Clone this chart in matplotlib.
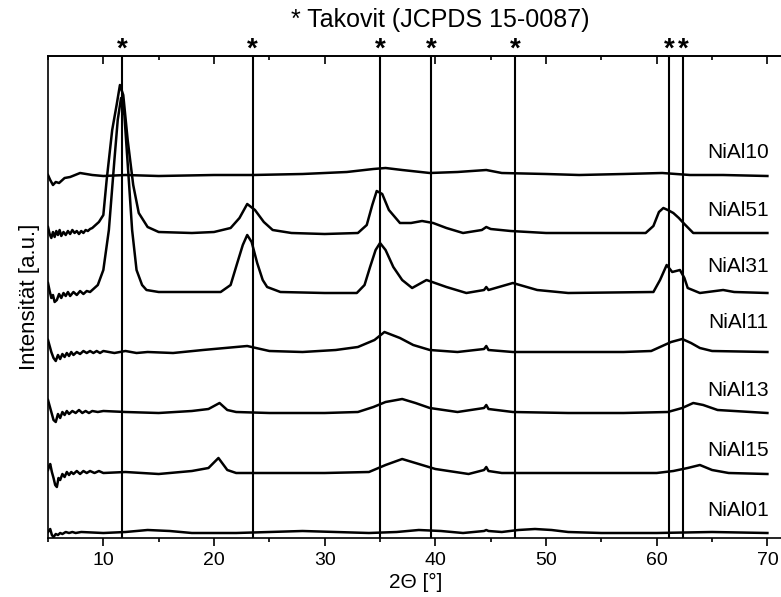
import matplotlib
matplotlib.use('Agg')
import matplotlib.pyplot as plt
from matplotlib.ticker import MultipleLocator

plt.rcParams['font.family'] = ['Liberation Sans', 'DejaVu Sans']

# reference peaks (Takovit, JCPDS 15-0087), in 2theta
ref_peaks = [11.7, 23.5, 35.0, 39.6, 47.2, 61.1, 62.4]

# stacked diffractograms, intensity (stacked, arb. units)
x_10 = [5.0, 5.2, 5.45, 5.7, 6.0, 6.5, 7.0, 7.9, 9, 10, 12, 15, 20, 23.5, 28, 32, 34.4,
        35.5, 37, 39.5, 42, 44.6, 46, 50, 53, 57, 60.5, 63, 66, 70]
y_10 = [363, 358, 353, 356, 355, 360, 361, 365, 363, 362, 363, 362, 363, 363, 364, 366, 369,
        370, 368, 365, 366, 368, 365, 364, 363, 364, 365, 363, 363, 362]

x_51 = [5.0, 5.15, 5.3, 5.45, 5.6, 5.75, 5.9, 6.05, 6.2, 6.4, 6.6, 6.8, 7.0, 7.2, 7.4,
        7.6, 7.8, 8.0, 8.2, 8.4, 8.6, 8.8, 9.0, 9.3, 9.6, 10.0, 10.3, 10.8, 11.2, 11.5,
        11.8, 12.2, 12.7, 13.2, 14, 15, 18, 20, 21.5, 22.3, 23.0, 23.7, 24.5, 25.3, 27,
        30, 33, 33.8, 34.3, 34.7, 35.2, 35.8, 36.8, 37.8, 38.8, 39.8, 41, 42.5, 44.2,
        44.6, 45, 46.8, 50, 55, 59, 59.7, 60.2, 60.6, 61.0, 61.5, 62.0, 62.5, 63.3, 65, 70]
y_51 = [311, 304, 300, 306, 301, 307, 303, 308, 302, 306, 303, 307, 304, 308, 305,
        307, 304, 307, 305, 308, 307, 309, 310, 313, 316, 323, 358, 408, 433, 453,
        443, 398, 353, 325, 311, 306, 305, 306, 310, 320, 334, 328, 316, 308, 305,
        304, 305, 313, 333, 347, 344, 328, 315, 315, 317, 315, 310, 305, 308,
        311, 309, 307, 305, 305, 305, 312, 326, 330, 328, 325, 320, 314, 305, 305, 305]

x_31 = [5.0, 5.15, 5.3, 5.45, 5.6, 5.8, 6.0, 6.2, 6.4, 6.6, 6.8, 7.0, 7.3, 7.6, 7.9,
        8.2, 8.5, 8.8, 9.0, 9.5, 10, 10.5, 11.0, 11.3, 11.6, 11.9, 12.3, 12.6, 13.0,
        13.5, 13.9, 15, 18, 20.6, 21.5, 22.1, 22.6, 23.0, 23.4, 23.9, 24.4, 24.8, 26,
        30, 32.9, 33.6, 34.1, 34.6, 35.0, 35.5, 36.2, 37.0, 37.9, 39.2, 41, 42.8, 44.4,
        44.6, 44.8, 47, 49.2, 52, 59.7, 60.3, 60.9, 61.4, 62.1, 62.5, 62.8, 63.9, 66,
        67, 70]
y_31 = [255, 247, 240, 243, 236, 238, 244, 240, 245, 242, 246, 242, 246, 243, 247,
        244, 247, 246, 248, 253, 268, 308, 378, 418, 440, 423, 358, 308, 268,
        253, 248, 246, 246, 246, 253, 275, 293, 303, 296, 275, 258, 251, 246,
        245, 245, 253, 271, 288, 295, 288, 271, 258, 250, 258, 251, 245, 248,
        251, 248, 255, 248, 245, 246, 258, 273, 266, 268, 260, 250, 245, 248,
        246, 245]

x_11 = [5.0, 5.15, 5.3, 5.5, 5.7, 5.9, 6.1, 6.3, 6.5, 6.7, 6.9, 7.1, 7.3, 7.6, 7.9,
        8.2, 8.5, 8.8, 9.1, 9.4, 9.7, 10, 11, 12, 13, 14, 16.3, 19, 21, 23, 25, 28, 31,
        33, 34.5, 35.4, 36.8, 38, 39.5, 42, 44.4, 44.6, 44.8, 47, 52, 57, 59.5, 60.3,
        61.3, 62.3, 63.1, 63.9, 65, 70]
y_11 = [198, 192, 186, 180, 177, 183, 179, 184, 181, 185, 182, 186, 183, 186, 184,
        187, 185, 187, 185, 187, 185, 187, 185, 187, 185, 186, 185, 188, 190, 192, 187,
        186, 188, 191, 198, 206, 200, 193, 188, 186, 189, 192, 188, 186, 186, 186, 187,
        191, 196, 199, 195, 190, 187, 186]

x_13 = [5.0, 5.15, 5.3, 5.5, 5.7, 5.9, 6.1, 6.3, 6.5, 6.7, 6.9, 7.2, 7.5, 7.8, 8.1,
        8.4, 8.7, 9.0, 9.5, 10, 12, 15, 18, 19.5, 20.5, 21.2, 22, 25, 30, 33, 34.4,
        35.5, 37.0, 38.2, 39.5, 42, 44.4, 44.6, 44.8, 47, 52, 57, 61, 62.3, 63.3, 64.2,
        65.5, 70]
y_13 = [138, 132, 126, 118, 116, 124, 120, 126, 123, 127, 124, 127, 125, 128, 125,
        127, 125, 127, 126, 127, 126, 125, 127, 129, 135, 128, 126, 125, 125, 126, 131,
        136, 139, 135, 130, 126, 130, 133, 129, 126, 125, 125, 126, 130, 135, 133,
        128, 125]

x_15 = [5.0, 5.1, 5.2, 5.35, 5.5, 5.65, 5.8, 5.95, 6.1, 6.3, 6.5, 6.7, 6.9, 7.1, 7.3,
        7.6, 7.9, 8.2, 8.5, 8.8, 9.2, 9.6, 10, 12, 15, 18, 19.5, 20.4, 21.2, 22, 25, 30,
        34, 35.5, 37.0, 38.5, 40, 43, 44.4, 44.6, 44.8, 46, 50, 55, 60, 61.5, 62.8,
        63.9, 65, 66.5, 70]
y_15 = [68, 72, 74, 66, 60, 53, 51, 60, 58, 64, 61, 66, 63, 66, 64,
        67, 64, 67, 65, 67, 65, 67, 65, 66, 64, 67, 70, 80, 68, 65, 65, 65,
        66, 73, 79, 74, 69, 64, 68, 71, 67, 65, 65, 65, 65, 67, 70,
        73, 68, 65, 64]

x_01 = [5.0, 5.2, 5.35, 5.5, 5.7, 5.9, 6.1, 6.3, 6.6, 6.9, 7.2, 7.5, 8, 10, 12, 14, 16,
        18, 22, 25, 28, 31, 34, 36.5, 38.5, 40.5, 42.5, 44.4, 44.6, 44.8, 46, 47.5, 49,
        50.5, 52, 55, 60, 65, 70]
y_01 = [6, 9, 3, 1, 4, 3, 5, 4, 6, 5, 6, 5, 6, 5, 6, 8, 7,
        5, 5, 6, 7, 6, 5, 6, 8, 7, 5, 7, 8, 7, 6, 8, 9,
        8, 6, 5, 5, 6, 5]

names = ['NiAl10', 'NiAl51', 'NiAl31', 'NiAl11', 'NiAl13', 'NiAl15', 'NiAl01']
xs = [x_10, x_51, x_31, x_11, x_13, x_15, x_01]
ys = [y_10, y_51, y_31, y_11, y_13, y_15, y_01]
label_y = [385, 328, 271, 216, 148, 88, 28]

fig = plt.figure(figsize=(7.81, 5.97), dpi=100)
ax = fig.add_axes([48 / 781, 59 / 597, 736 / 781, 482 / 597])

for v in ref_peaks:
    ax.axvline(v, color='black', lw=1.5, zorder=1)
    ax.annotate('*', xy=(v, 1.0), xycoords=ax.get_xaxis_transform(),
                xytext=(0, -5), textcoords='offset points',
                ha='center', va='bottom', fontsize=20, fontweight='bold')

for x, y, name, ly in zip(xs, ys, names, label_y):
    ax.plot(x, y, color='black', lw=1.8, zorder=2)
    ax.text(70.1, ly, name, ha='right', va='center', fontsize=15)

ax.set_xlim(5, 71.5)
ax.set_ylim(0, 482)
ax.set_yticks([])
ax.xaxis.set_major_locator(MultipleLocator(10))
ax.xaxis.set_minor_locator(MultipleLocator(5))
ax.tick_params(axis='x', which='major', direction='out', length=6, width=1.2,
               labelsize=14, pad=4)
ax.tick_params(axis='x', which='minor', direction='out', length=3, width=1.2)

top = ax.secondary_xaxis('top')
top.xaxis.set_major_locator(MultipleLocator(10))
top.xaxis.set_minor_locator(MultipleLocator(5))
top.tick_params(axis='x', which='major', direction='in', length=6, width=1.2, labeltop=False)
top.tick_params(axis='x', which='minor', direction='in', length=3, width=1.2)
top.spines['top'].set_linewidth(1.2)

for s in ax.spines.values():
    s.set_linewidth(1.2)

ax.set_xlabel('2\u0398 [\u00b0]', fontsize=15, labelpad=3)
ax.set_ylabel('Intensit\u00e4t [a.u.]', fontsize=16, labelpad=6)

fig.text(440 / 781, 1 - 20 / 597, '* Takovit (JCPDS 15-0087)', ha='center', va='center',
         fontsize=18)

fig.savefig('out.png', dpi=100)
